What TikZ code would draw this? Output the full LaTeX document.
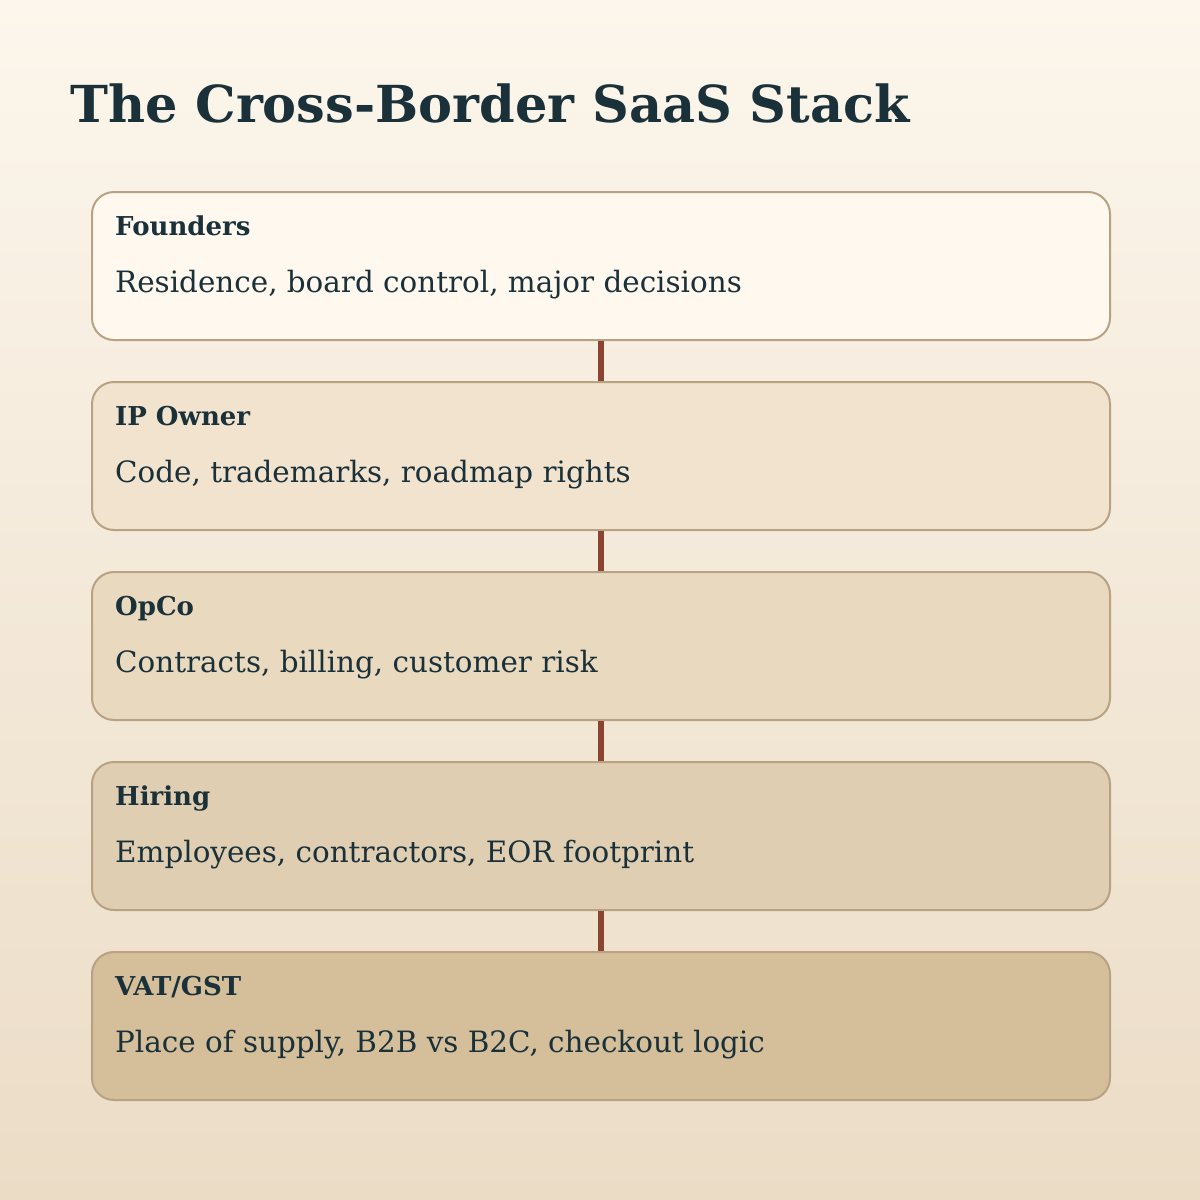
\documentclass[tikz,border=0pt]{standalone}
\usepackage{fontspec}
\setmainfont{DejaVu Serif}
\definecolor{ink}{HTML}{1B313A}
\definecolor{edge}{HTML}{B8A283}
\definecolor{link}{HTML}{8B4332}
\definecolor{bgtop}{HTML}{FCF6EC}
\definecolor{bgbot}{HTML}{EBDCC6}
\definecolor{fa}{HTML}{FEF8EE}
\definecolor{fb}{HTML}{F2E3CE}
\definecolor{fc}{HTML}{E9D9BF}
\definecolor{fd}{HTML}{E0CEB2}
\definecolor{fe}{HTML}{D4BF9A}
\begin{document}
\begin{tikzpicture}[x=1pt,y=-1pt,
  layer/.style={draw=edge,line width=2pt,rounded corners=22pt,minimum width=1018pt,minimum height=148pt,inner sep=0pt,anchor=north west},
  head/.style={anchor=base west,inner sep=0pt,text=ink,font=\bfseries\fontsize{26}{30}\selectfont},
  desc/.style={anchor=base west,inner sep=0pt,text=ink,font=\fontsize{29.4}{35}\selectfont},
  conn/.style={draw=link,line width=6pt}]
\shade[top color=bgtop,bottom color=bgbot] (0,0) rectangle (1200,1200);
\useasboundingbox (0,0) rectangle (1200,1200);
\node[anchor=base west,inner sep=0pt,text=ink,font=\bfseries\fontsize{51}{60}\selectfont] (title) at (70,122) {The Cross-Border SaaS Stack};
\node[layer,fill=fa] (b1) at (91,191) {};
\node[layer,fill=fb] (b2) at (91,381) {};
\node[layer,fill=fc] (b3) at (91,571) {};
\node[layer,fill=fd] (b4) at (91,761) {};
\node[layer,fill=fe] (b5) at (91,951) {};
\foreach \a/\b in {b1/b2,b2/b3,b3/b4,b4/b5}{\draw[conn] (\a.south) -- (\b.north);}
\node[head] (h1) at (115,235) {Founders};
\node[desc] (d1) at (115,292) {Residence, board control, major decisions};
\node[head] (h2) at (115,425) {IP Owner};
\node[desc] (d2) at (115,482) {Code, trademarks, roadmap rights};
\node[head] (h3) at (115,615) {OpCo};
\node[desc] (d3) at (115,672) {Contracts, billing, customer risk};
\node[head] (h4) at (115,805) {Hiring};
\node[desc] (d4) at (115,862) {Employees, contractors, EOR footprint};
\node[head] (h5) at (115,995) {VAT/GST};
\node[desc] (d5) at (115,1052) {Place of supply, B2B vs B2C, checkout logic};
\end{tikzpicture}
\end{document}
